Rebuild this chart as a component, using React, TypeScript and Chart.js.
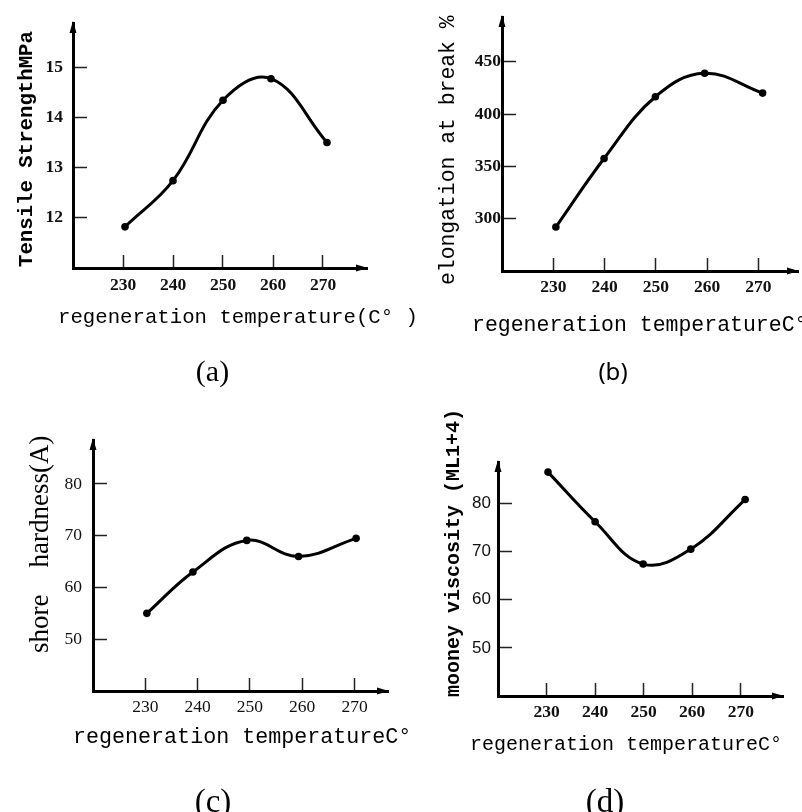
import React, { useEffect, useRef } from "react";
import { Chart, registerables } from "chart.js";

Chart.register(...registerables);

// ---------- data ----------
const temperatureTicks = [230, 240, 250, 260, 270];

const tempA = [230.4, 240, 250, 259.6, 270.8];
const tensileStrength = [11.82, 12.74, 14.34, 14.77, 13.5];
const tensileTicks = [12, 13, 14, 15];

const tempB = [230.5, 239.9, 249.9, 259.5, 270.8];
const elongationAtBreak = [292, 357.5, 416.5, 438.9, 420];
const elongationTicks = [300, 350, 400, 450];

const tempC = [230.3, 239.1, 249.4, 259.3, 270.3];
const shoreHardness = [55, 63, 69.1, 66, 69.5];
const hardnessTicks = [50, 60, 70, 80];

const tempD = [230.3, 240, 249.9, 259.7, 270.9];
const mooneyViscosity = [86.5, 76.2, 67.4, 70.5, 80.8];
const mooneyTicks = [50, 60, 70, 80];

// ---------- panel configuration ----------
type Txt = { text: string; x: number; y: number; font: string; rotate?: boolean; align?: CanvasTextAlign };
type Panel = {
  xs: number[];
  ys: number[];
  yTicks: number[];
  xMin: number; xMax: number; yMin: number; yMax: number;
  area: { left: number; top: number; right: number; bottom: number };
  xTickFont: any; yTickFont: any;
  xTickPad: number; yTickPad: number;
  texts: Txt[];
};

const MONO = "'Liberation Mono', 'DejaVu Sans Mono', monospace";
const SERIF = "'Liberation Serif', 'Times New Roman', serif";

const panels: Panel[] = [
  {
    xs: tempA, ys: tensileStrength, yTicks: tensileTicks,
    xMin: 220, xMax: 278.8, yMin: 11, yMax: 15.88,
    area: { left: 73, top: 23, right: 367, bottom: 268 },
    xTickFont: { family: SERIF, size: 17.5, weight: "bold" },
    yTickFont: { family: SERIF, size: 17.5, weight: "bold" },
    xTickPad: 20, yTickPad: 24,
    texts: [
      { text: "regeneration temperature(C° )", x: 58, y: 323, font: `20.7px ${MONO}` },
      { text: "Tensile StrengthMPa", x: 32, y: 267, font: `bold 20.7px ${MONO}`, rotate: true },
      { text: "(a)", x: 212.5, y: 381, font: `30px ${SERIF}`, align: "center" },
    ],
  },
  {
    xs: tempB, ys: elongationAtBreak, yTicks: elongationTicks,
    xMin: 220, xMax: 277.7, yMin: 250, yMax: 492.7,
    area: { left: 502, top: 17, right: 802, bottom: 271 },
    xTickFont: { family: SERIF, size: 17.5, weight: "bold" },
    yTickFont: { family: SERIF, size: 17.5, weight: "bold" },
    xTickPad: 18.5, yTickPad: 15,
    texts: [
      { text: "regeneration temperatureC°", x: 472, y: 331, font: `21.5px ${MONO}` },
      { text: "elongation at break %", x: 454, y: 285, font: `21.4px ${MONO}`, rotate: true },
      { text: "(b)", x: 613, y: 380, font: `24px 'Noto Sans', sans-serif`, align: "center" },
    ],
  },
  {
    xs: tempC, ys: shoreHardness, yTicks: hardnessTicks,
    xMin: 220, xMax: 276.4, yMin: 40, yMax: 88.5,
    area: { left: 93, top: 440, right: 388, bottom: 691 },
    xTickFont: { family: SERIF, size: 17.5 },
    yTickFont: { family: SERIF, size: 17.5 },
    xTickPad: 19, yTickPad: 25,
    texts: [
      { text: "regeneration temperatureC°", x: 73, y: 743, font: `21.7px ${MONO}` },
      { text: "shore    hardness(A)", x: 48, y: 653, font: `27px ${SERIF}`, rotate: true },
      { text: "(c)", x: 213, y: 812, font: `33px ${SERIF}`, align: "center" },
    ],
  },
  {
    xs: tempD, ys: mooneyViscosity, yTicks: mooneyTicks,
    xMin: 220, xMax: 278.7, yMin: 40, yMax: 88.6,
    area: { left: 498, top: 462, right: 783, bottom: 696 },
    xTickFont: { family: SERIF, size: 17.5, weight: "bold" },
    yTickFont: { family: "'Liberation Sans', Arial, sans-serif", size: 17 },
    xTickPad: 18.5, yTickPad: 21,
    texts: [
      { text: "regeneration temperatureC°", x: 470, y: 750, font: `20px ${MONO}` },
      { text: "mooney viscosity (ML1+4)", x: 459, y: 697, font: `bold 20px ${MONO}`, rotate: true },
      { text: "(d)", x: 605, y: 812, font: `33px ${SERIF}`, align: "center" },
    ],
  },
];

const W = 802;
const H = 812;
const YW = 60; // fixed y-axis box width
const XH = 40; // fixed x-axis box height

function makeChart(canvas: HTMLCanvasElement, p: Panel) {
  const decor = {
    id: "decor",
    afterDraw(chart: any) {
      const ctx: CanvasRenderingContext2D = chart.ctx;
      const a = chart.chartArea;
      ctx.save();
      ctx.fillStyle = "#000";
      // arrow on y axis
      ctx.beginPath();
      ctx.moveTo(a.left, a.top - 2);
      ctx.lineTo(a.left - 3.5, a.top + 10);
      ctx.lineTo(a.left + 3.5, a.top + 10);
      ctx.closePath();
      ctx.fill();
      // arrow on x axis
      ctx.beginPath();
      ctx.moveTo(a.right + 1, a.bottom);
      ctx.lineTo(a.right - 11, a.bottom - 3.5);
      ctx.lineTo(a.right - 11, a.bottom + 3.5);
      ctx.closePath();
      ctx.fill();
      // texts
      ctx.fillStyle = "#000";
      ctx.textBaseline = "alphabetic";
      for (const t of p.texts) {
        ctx.font = t.font;
        if (t.rotate) {
          ctx.save();
          ctx.translate(t.x, t.y);
          ctx.rotate(-Math.PI / 2);
          ctx.textAlign = "left";
          ctx.fillText(t.text, 0, 0);
          ctx.restore();
        } else {
          ctx.textAlign = t.align || "left";
          ctx.fillText(t.text, t.x, t.y);
        }
      }
      ctx.restore();
    },
  };

  return new Chart(canvas, {
    type: "line",
    data: {
      datasets: [
        {
          data: p.xs.map((x, i) => ({ x, y: p.ys[i] })),
          borderColor: "#000",
          backgroundColor: "#000",
          borderWidth: 3,
          tension: 0.4,
          pointRadius: 3.8,
          pointBackgroundColor: "#000",
          pointBorderWidth: 0,
          fill: false,
        },
      ],
    },
    options: {
      responsive: false,
      animation: false,
      devicePixelRatio: 1,
      layout: {
        padding: {
          left: p.area.left - YW,
          top: p.area.top,
          right: W - p.area.right,
          bottom: H - p.area.bottom - XH,
        },
      },
      plugins: { legend: { display: false }, tooltip: { enabled: false }, title: { display: false } },
      scales: {
        x: {
          type: "linear",
          min: p.xMin,
          max: p.xMax,
          afterBuildTicks: (s: any) => {
            s.ticks = temperatureTicks.map((v) => ({ value: v }));
          },
          afterFit: (s: any) => {
            s.height = XH;
            s.paddingLeft = 0;
            s.paddingRight = 0;
          },
          grid: { drawOnChartArea: false, drawTicks: true, tickLength: -13, tickColor: "#222", tickWidth: 1.5 },
          border: { display: true, color: "#000", width: 3 },
          ticks: { autoSkip: false, maxRotation: 0, padding: p.xTickPad, color: "#111", font: p.xTickFont },
        },
        y: {
          type: "linear",
          min: p.yMin,
          max: p.yMax,
          afterBuildTicks: (s: any) => {
            s.ticks = p.yTicks.map((v) => ({ value: v }));
          },
          afterFit: (s: any) => {
            s.width = YW;
            s.paddingTop = 0;
            s.paddingBottom = 0;
          },
          grid: { drawOnChartArea: false, drawTicks: true, tickLength: -14, tickColor: "#222", tickWidth: 1.5 },
          border: { display: true, color: "#000", width: 3 },
          ticks: { autoSkip: false, padding: p.yTickPad, color: "#111", font: p.yTickFont },
        },
      },
    } as any,
    plugins: [decor],
  });
}

export default function App() {
  const refs = [
    useRef<HTMLCanvasElement>(null),
    useRef<HTMLCanvasElement>(null),
    useRef<HTMLCanvasElement>(null),
    useRef<HTMLCanvasElement>(null),
  ];

  useEffect(() => {
    const charts = panels.map((p, i) => makeChart(refs[i].current as HTMLCanvasElement, p));
    return () => charts.forEach((c) => c.destroy());
  }, []);

  return (
    <div style={{ position: "absolute", left: 0, top: 0, width: W, height: H, background: "#fff", overflow: "hidden" }}>
      {refs.map((r, i) => (
        <canvas
          key={i}
          ref={r}
          width={W}
          height={H}
          style={{ position: "absolute", left: 0, top: 0, width: W, height: H }}
        />
      ))}
    </div>
  );
}
